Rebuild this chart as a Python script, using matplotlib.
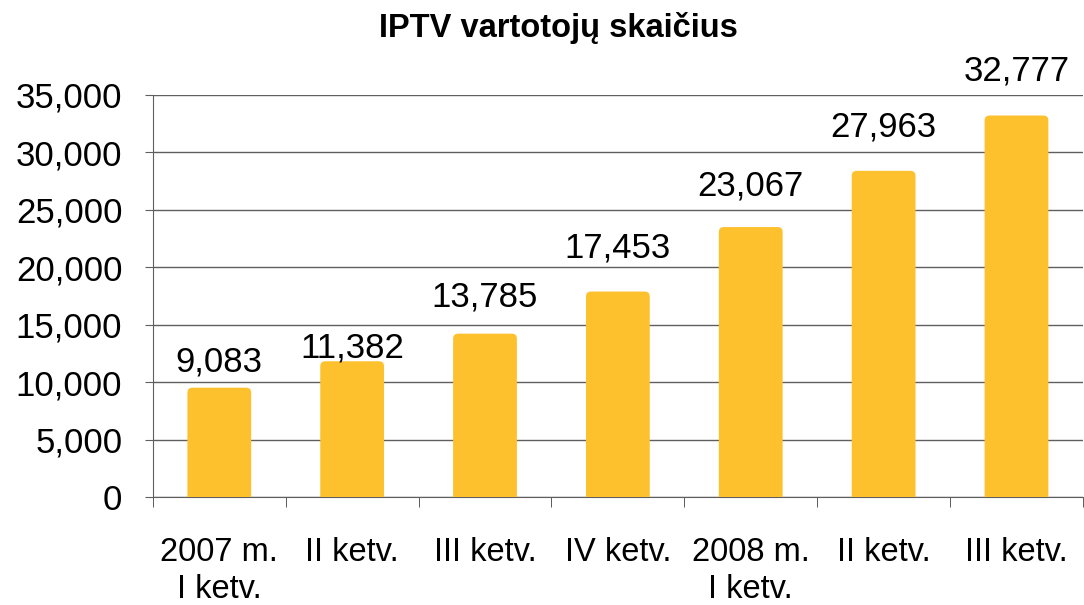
import matplotlib.pyplot as plt
from matplotlib.patches import FancyBboxPatch
from matplotlib.ticker import FuncFormatter

plt.rcParams['font.family'] = ['Liberation Sans', 'DejaVu Sans']

categories = ['2007 m.\nI ketv.', 'II ketv.', 'III ketv.', 'IV ketv.',
              '2008 m.\nI ketv.', 'II ketv.', 'III ketv.']
users = [9083, 11382, 13785, 17453, 23067, 27963, 32777]
# how far each value label sits above its value (pixels), as in the original
label_lift = [21, 9, 32, 39, 37, 39, 40]
bar_color = '#FDC12D'
grid_color = '#5f5f5f'

fig = plt.figure(figsize=(10.84, 6.05), dpi=100)
ax = fig.add_axes([0.141, 0.1785, 0.858, 0.6645])

ax.set_xlim(-0.5, len(users) - 0.5)
ax.set_ylim(0, 35000)

# rounded bars, pad in x-units, scaled to y with the aspect
px_x = 7 / (0.858 * 1084)
px_y = 35000 / (0.6645 * 605)
aspect = px_y / px_x
pad = 5 * px_x
w = 0.48 - 2 * pad
for i, v in enumerate(users):
    box = FancyBboxPatch((i - w / 2, 0), w, v,
                         boxstyle=f'round,pad={pad},rounding_size={5 * px_x}',
                         mutation_aspect=aspect, fc=bar_color, ec='none',
                         zorder=3)
    ax.add_patch(box)
    ax.annotate(f'{v:,}', (i, v), xytext=(0, label_lift[i] * 0.72),
                textcoords='offset points', ha='center', va='baseline',
                fontsize=25, zorder=4, annotation_clip=False)

ax.set_yticks(range(0, 35001, 5000))
ax.yaxis.set_major_formatter(FuncFormatter(lambda v, p: f'{int(v):,}'))
ax.grid(axis='y', color=grid_color, lw=1, zorder=0)
ax.set_axisbelow(True)

ax.set_xticks(range(len(users)))
ax.set_xticklabels(categories, fontsize=23.5, linespacing=1.22)
ax.set_xticks([i - 0.5 for i in range(len(users) + 1)], minor=True)
ax.tick_params(axis='x', which='major', length=0, pad=29)
ax.tick_params(axis='x', which='minor', length=7.5, direction='out', color='#404040')
ax.tick_params(axis='y', labelsize=25, length=6, color=grid_color, pad=16)

for s in ['top', 'right']:
    ax.spines[s].set_visible(False)
ax.spines['left'].set_color(grid_color)
ax.spines['bottom'].set_color(grid_color)

fig.text(0.515, 0.953, 'IPTV vartotojų skaičius', fontsize=23.5,
         fontweight='bold', ha='center', va='center')

fig.savefig('out.png', dpi=100)
